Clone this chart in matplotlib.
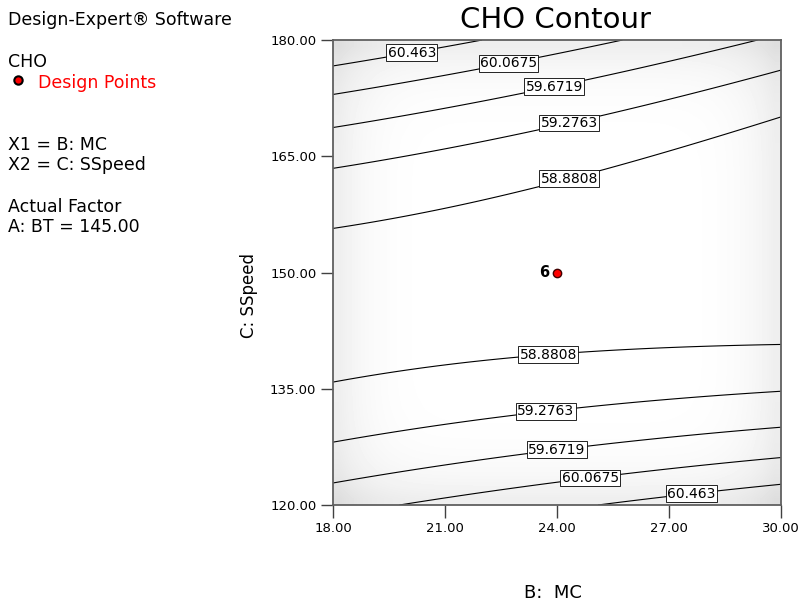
import numpy as np
import matplotlib.pyplot as plt
from matplotlib.lines import Line2D

# factor ranges (actual units)
mc_range = [18.0, 30.0]
sspeed_range = [120.0, 180.0]
x_ticks = [18, 21, 24, 27, 30]
y_ticks = [120, 135, 150, 165, 180]

# coded equation for CHO at A: BT = 145.00 (estimated from the plot)
coef_names = ['Intercept', 'B', 'C', 'BC', 'B^2', 'C^2']
coef_values = [58.654, -0.098, -0.065, -0.534, -0.020, 1.665]

levels = [58.8808, 59.2763, 59.6719, 60.0675, 60.463]
level_labels = ['58.8808', '59.2763', '59.6719', '60.0675', '60.463']

# design points
pt_mc = [24.0]
pt_sspeed = [150.0]
pt_count = ['6']

# where the contour labels sit (data coords)
label_pos = [(20.09, 178.97), (22.70, 177.03), (23.88, 174.97), (24.28, 170.2),
             (24.28, 162.97), (23.75, 140.5), (23.67, 133.1), (23.96, 128.3),
             (24.87, 124.3), (27.56, 123.1)]


def coded(v, rng):
    mid = (rng[0] + rng[1]) / 2
    half = (rng[1] - rng[0]) / 2
    return (v - mid) / half


mc = np.linspace(mc_range[0], mc_range[1], 240)
ss = np.linspace(sspeed_range[0], sspeed_range[1], 240)
MC, SS = np.meshgrid(mc, ss)
B = coded(MC, mc_range)
C = coded(SS, sspeed_range)
k = dict(zip(coef_names, coef_values))
Z = (k['Intercept'] + k['B'] * B + k['C'] * C + k['BC'] * B * C
     + k['B^2'] * B ** 2 + k['C^2'] * C ** 2)

# grey shading toward the edges of the design space
gb, gc = np.meshgrid(np.linspace(-1, 1, 36), np.linspace(-1, 1, 36))
shade = 1 - 0.065 * (np.abs(gb) ** 7 + np.abs(gc) ** 7)

fig = plt.figure(figsize=(8, 6.05), dpi=100)
ax = fig.add_axes([333 / 800, 100 / 605, 448 / 800, 465 / 605])

ax.imshow(shade, extent=[mc_range[0], mc_range[1], sspeed_range[0], sspeed_range[1]],
          origin='lower', cmap='gray', vmin=0, vmax=1, aspect='auto',
          interpolation='bilinear', zorder=0)

cs = ax.contour(MC, SS, Z, levels=levels, colors='black', linewidths=0.8, zorder=2)
texts = ax.clabel(cs, levels, fmt=dict(zip(levels, level_labels)),
                  manual=label_pos, inline=False, fontsize=10)
for t in texts:
    t.set_rotation(0)
    t.set_zorder(4)
    t.set_bbox(dict(boxstyle='square,pad=0.1', fc='white', ec='black', lw=0.6))

ax.plot(pt_mc, pt_sspeed, 'o', color='red', markeredgecolor='#400000',
        markersize=6, zorder=5)
for x, y, n in zip(pt_mc, pt_sspeed, pt_count):
    ax.text(x - 0.2, y, n, ha='right', va='center', fontsize=10.5,
            fontweight='bold', zorder=5)

ax.set_xlim(mc_range)
ax.set_ylim(sspeed_range)
ax.set_xticks(x_ticks)
ax.set_yticks(y_ticks)
ax.set_xticklabels(['%.2f' % v for v in x_ticks])
ax.set_yticklabels(['%.2f' % v for v in y_ticks])
ax.tick_params(direction='out', length=9, width=1, color='#404040',
               labelsize=9.5, pad=3)
for s in ax.spines.values():
    s.set_color('#606060')
    s.set_linewidth(1.3)


def fpos(x, y):
    return x / 800, 1 - y / 605


fig.text(*fpos(555, 20), 'CHO Contour', fontsize=21, ha='center', va='center')
fig.text(*fpos(553, 593), 'B:  MC', fontsize=13, ha='center', va='center')
fig.text(*fpos(249, 296), 'C: SSpeed', fontsize=12, rotation=90,
         ha='center', va='center')

fig.text(*fpos(8, 20), 'Design-Expert® Software', fontsize=12.5, va='center')
fig.text(*fpos(8, 62), 'CHO', fontsize=12.5, va='center')
fig.add_artist(Line2D([18 / 800], [1 - 80 / 605], transform=fig.transFigure,
                      marker='o', markersize=6, color='red',
                      markeredgecolor='black', markeredgewidth=1.5))
fig.text(*fpos(38, 83), 'Design Points', fontsize=12.5, va='center', color='red')
fig.text(*fpos(8, 145), 'X1 = B: MC', fontsize=12.5, va='center')
fig.text(*fpos(8, 165), 'X2 = C: SSpeed', fontsize=12.5, va='center')
fig.text(*fpos(8, 207), 'Actual Factor', fontsize=12.5, va='center')
fig.text(*fpos(8, 227), 'A: BT = 145.00', fontsize=12.5, va='center')

fig.savefig('out.png', dpi=100)
